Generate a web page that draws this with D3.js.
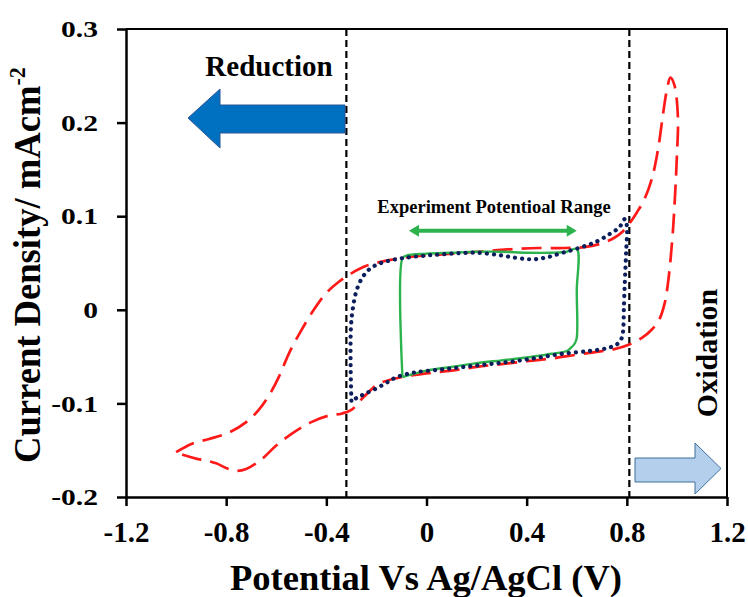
<!DOCTYPE html>
<html><head><meta charset="utf-8">
<script src="https://cdn.jsdelivr.net/npm/d3@7"></script>
<style>
html,body{margin:0;padding:0;background:#fff;}
svg{display:block;}
text{font-family:"Liberation Serif","Times New Roman",serif;font-weight:bold;fill:#000;}
</style></head>
<body>
<svg id="c" width="748" height="597"></svg>
<script>
// ---------- data ----------
const xTicks = [-1.2, -0.8, -0.4, 0, 0.4, 0.8, 1.2];
const xTickLabels = ["-1.2", "-0.8", "-0.4", "0", "0.4", "0.8", "1.2"];
const yTicks = [-0.2, -0.1, 0, 0.1, 0.2, 0.3];
const yTickLabels = ["-0.2", "-0.1", "0", "0.1", "0.2", "0.3"];
const limitLines = [-0.32, 0.81];
const rangeArrow = [-0.07, 0.6];

// red dashed CV (wide window)
const redX = [-1.0,-0.936,-0.868,-0.788,-0.72,-0.67,-0.63,-0.59,-0.55,-0.5,-0.45,-0.4,-0.35,-0.3,-0.24,-0.15,-0.05,0.05,0.15,0.25,0.35,0.45,0.55,0.63,0.7,0.75,0.785,0.81,0.84,0.87,0.9,0.925,0.945,0.96,0.974,0.99,1.004,1.0,0.993,0.985,0.975,0.965,0.952,0.93,0.9,0.86,0.81,0.75,0.68,0.6,0.5,0.4,0.3,0.2,0.1,0.0,-0.1,-0.19,-0.25,-0.3,-0.34,-0.39,-0.46,-0.53,-0.6,-0.66,-0.72,-0.76,-0.8,-0.84,-0.88,-0.92,-0.96,-1.0];
const redY = [-0.152,-0.143,-0.138,-0.131,-0.12,-0.107,-0.092,-0.072,-0.047,-0.022,0.0,0.018,0.03,0.039,0.047,0.053,0.057,0.059,0.061,0.063,0.065,0.066,0.066,0.067,0.071,0.077,0.084,0.092,0.104,0.118,0.14,0.172,0.21,0.235,0.248,0.24,0.205,0.165,0.125,0.088,0.055,0.03,0.008,-0.01,-0.021,-0.03,-0.037,-0.042,-0.045,-0.048,-0.052,-0.055,-0.058,-0.061,-0.065,-0.068,-0.072,-0.079,-0.093,-0.107,-0.111,-0.113,-0.12,-0.131,-0.145,-0.16,-0.17,-0.172,-0.169,-0.164,-0.161,-0.159,-0.156,-0.152];

// navy dotted CV
const blueX = [-0.3,-0.303,-0.302,-0.295,-0.28,-0.255,-0.22,-0.17,-0.1,0.0,0.1,0.2,0.3,0.37,0.424,0.48,0.544,0.62,0.68,0.732,0.77,0.792,0.8,0.797,0.792,0.788,0.786,0.78,0.76,0.72,0.65,0.544,0.45,0.35,0.25,0.15,0.05,-0.05,-0.12,-0.16,-0.2,-0.24,-0.27,-0.3];
const blueY = [-0.097,-0.06,-0.02,0.0,0.02,0.035,0.045,0.051,0.055,0.058,0.06,0.061,0.058,0.055,0.054,0.056,0.061,0.067,0.073,0.081,0.088,0.097,0.09,0.06,0.03,0.0,-0.019,-0.03,-0.037,-0.041,-0.044,-0.047,-0.051,-0.055,-0.058,-0.061,-0.064,-0.067,-0.072,-0.078,-0.084,-0.089,-0.093,-0.097];

// green solid CV (experiment window)
const greenX = [-0.096,-0.096,-0.08,0.0,0.1,0.2,0.3,0.4,0.5,0.56,0.6,0.6,0.6,0.592,0.575,0.56,0.5,0.45,0.4,0.3,0.2,0.1,0.0,-0.096];
const greenY = [-0.072,0.055,0.058,0.06,0.061,0.062,0.062,0.061,0.061,0.062,0.065,0.02,-0.03,-0.036,-0.041,-0.044,-0.047,-0.049,-0.051,-0.054,-0.057,-0.061,-0.065,-0.072];

// ---------- layout ----------
const svg = d3.select("#c");
const L = 126, R = 727, T = 29, B = 497;
const x = d3.scaleLinear().domain([-1.2, 1.2]).range([L, R]);
const y = d3.scaleLinear().domain([-0.2, 0.3]).range([B, T]);

// frame (top + right)
svg.append("path").attr("d", `M${L},${T}H${R}V${B}`).attr("fill","none").attr("stroke","#000").attr("stroke-width",2);

// axes
const gx = svg.append("g").attr("transform", `translate(0,${B})`)
  .call(d3.axisBottom(x).tickValues(xTicks).tickFormat((d,i)=>xTickLabels[i]).tickSize(9).tickSizeOuter(0).tickPadding(15));
const gy = svg.append("g").attr("transform", `translate(${L},0)`)
  .call(d3.axisLeft(y).tickValues(yTicks).tickFormat((d,i)=>yTickLabels[i]).tickSize(9).tickSizeOuter(0).tickPadding(19));
[gx, gy].forEach(g => {
  g.select(".domain").attr("stroke","#000").attr("stroke-width",2.5);
  g.selectAll(".tick line").attr("stroke","#000").attr("stroke-width",2.5);
  g.selectAll(".tick text").attr("font-family",'"Liberation Serif","Times New Roman",serif').attr("font-weight","bold").attr("fill","#000");
});
gx.selectAll(".tick text").attr("font-size", 29);
gy.selectAll(".tick text").attr("font-size", 24).each(function(){
  const w = this.getComputedTextLength();
  d3.select(this).attr("textLength", w*1.23).attr("lengthAdjust","spacingAndGlyphs");
});

// axis titles
function fit(sel, target){ const w = sel.node().getBBox().width; return target / w; }
const xt = svg.append("text").attr("text-anchor","middle").attr("font-size",35).text("Potential Vs Ag/AgCl (V)");
const sxt = fit(xt, 392);
xt.attr("transform", `translate(426,590) scale(${sxt},1)`);

const yt = svg.append("text").attr("text-anchor","middle").attr("font-size",38);
yt.append("tspan").text("Current  Density/ mAcm");
yt.append("tspan").attr("font-size",23).attr("dy",-15).text("-2");
const syt = fit(yt, 396);
yt.attr("transform", `translate(40,265) rotate(-90) scale(${syt},1)`);

// limit lines
svg.selectAll("line.lim").data(limitLines).join("line").attr("class","lim")
  .attr("x1", d=>x(d)).attr("x2", d=>x(d)).attr("y1", T).attr("y2", B)
  .attr("stroke","#000").attr("stroke-width",2.2).attr("stroke-dasharray","7,4");

// curves
const line = d3.line().x(d=>x(d[0])).y(d=>y(d[1])).curve(d3.curveCatmullRom.alpha(0.5));
const zip = (a,b)=>a.map((v,i)=>[v,b[i]]);
svg.append("path").attr("d", line(zip(redX,redY))).attr("fill","none")
  .attr("stroke","#FF1A1A").attr("stroke-width",2.7).attr("stroke-dasharray","20,9");
svg.append("path").attr("d", line(zip(greenX,greenY))).attr("fill","none")
  .attr("stroke","#2DB34E").attr("stroke-width",2.4);
svg.append("path").attr("d", line(zip(blueX,blueY))).attr("fill","none")
  .attr("stroke","#0C1F5C").attr("stroke-width",4.2).attr("stroke-linecap","round").attr("stroke-dasharray","0.1,7");

// annotations
svg.append("text").attr("x",269).attr("y",76).attr("text-anchor","middle").attr("font-size",29).text("Reduction");
svg.append("path").attr("d","M188,118 L220,89 L220,105 L345,105 L345,133 L220,133 L220,148 Z")
  .attr("fill","#0070C0").attr("stroke","#2F5597").attr("stroke-width",1);

const ox = svg.append("text").attr("text-anchor","middle").attr("font-size",30).text("Oxidation");
ox.attr("transform", `translate(717,353) rotate(-90)`);
svg.append("path").attr("d","M635,458 L695,458 L695,443 L721,468.5 L695,494 L695,482 L635,482 Z")
  .attr("fill","#B4CFEC").attr("stroke","#41719C").attr("stroke-width",1);

svg.append("text").attr("x",494).attr("y",213).attr("text-anchor","middle").attr("font-size",18.5).attr("fill","#1a1a1a").text("Experiment Potentioal Range");
const ax0 = x(rangeArrow[0]), ax1 = x(rangeArrow[1]), ay = y(0.0845);
svg.append("line").attr("x1",ax0+6).attr("x2",ax1-6).attr("y1",ay).attr("y2",ay).attr("stroke","#2DB34E").attr("stroke-width",4);
svg.append("path").attr("d",`M${ax0},${ay} L${ax0+10},${ay-6} L${ax0+10},${ay+6} Z M${ax1},${ay} L${ax1-10},${ay-6} L${ax1-10},${ay+6} Z`).attr("fill","#2DB34E");
</script>
</body></html>
